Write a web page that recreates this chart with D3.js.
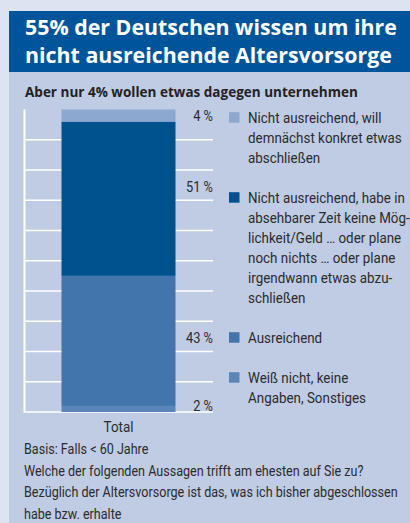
<!DOCTYPE html>
<html lang="de">
<head>
<meta charset="UTF-8">
<title>Altersvorsorge</title>
<script src="https://d3js.org/d3.v7.min.js"></script>
<style>
  body { margin: 0; background: #dde3f0; }
  svg { display: block; }
  .light { font-family: Roboto, "Liberation Sans", sans-serif; fill: #2b2b2b; }
  .bold { font-family: "Open Sans", Roboto, sans-serif; font-weight: 700; }
</style>
</head>
<body>
<script>
// chart data
const titleLines = ["55% der Deutschen wissen um ihre", "nicht ausreichende Altersvorsorge"];
const subtitle = "Aber nur 4% wollen etwas dagegen unternehmen";
const category = "Total";
// from bottom to top of the bar
const seriesKeys = ["weiss", "ausreichend", "keine", "will"];
const seriesValues = [2, 43, 51, 4];
const seriesColors = ["#5a85b9", "#4275ab", "#00528f", "#8ca7d0"];
const legendLines = [
  ["Weiß nicht, keine", "Angaben, Sonstiges"],
  ["Ausreichend"],
  ["Nicht ausreichend, habe in", "absehbarer Zeit keine Mög-", "lichkeit/Geld … oder plane", "noch nichts … oder plane", "irgendwann etwas abzu-", "schließen"],
  ["Nicht ausreichend, will", "demnächst konkret etwas", "abschließen"]
];
const gridTicks = [0, 10, 20, 30, 40, 50, 60, 70, 80, 90];
const footnote = [
  "Basis: Falls < 60 Jahre",
  "Welche der folgenden Aussagen trifft am ehesten auf Sie zu?",
  "Bezüglich der Altersvorsorge ist das, was ich bisher abgeschlossen",
  "habe bzw. erhalte"
];

const W = 410, H = 523;
const svg = d3.select("body").append("svg").attr("width", W).attr("height", H);

// background panel + title band
svg.append("rect").attr("width", W).attr("height", H).attr("fill", "#dde3f0");
svg.append("rect").attr("x", 9).attr("y", 11).attr("width", W - 9).attr("height", H - 11).attr("fill", "#c0cce4");
svg.append("rect").attr("x", 9).attr("y", 11).attr("width", W - 9).attr("height", 61).attr("fill", "#00559a");

// text helper: draws text squeezed horizontally to mimic the condensed print font
function squeezedText(parent, str, x, y, k, cls, size, anchor) {
  return parent.append("text")
    .attr("class", cls)
    .attr("transform", `translate(${x},${y}) scale(${k},1)`)
    .attr("text-anchor", anchor || "start")
    .style("font-size", size + "px")
    .text(str);
}

// measure a string so a style can be fitted to the print width
function naturalWidth(str, cls, size) {
  const t = svg.append("text").attr("class", cls).style("font-size", size + "px").text(str);
  const w = t.node().getComputedTextLength();
  t.remove();
  return w;
}

const kTitle = 372 / naturalWidth(titleLines[0], "bold", 22);
const kSub = 333 / naturalWidth(subtitle, "bold", 14.5);
const kLight = 374 / naturalWidth(footnote[2], "light", 14);
const kLegend = 157 / naturalWidth(legendLines[2][0], "light", 14.8);
const kValue = 27 / naturalWidth("51 %", "light", 14.8);

titleLines.forEach((l, i) => {
  squeezedText(svg, l, 25, 35 + i * 28, kTitle, "bold", 22).attr("fill", "#fff");
});
squeezedText(svg, subtitle, 25, 97, kSub, "bold", 14.5).attr("fill", "#222");

// scales
const y = d3.scaleLinear().domain([0, 100]).range([412, 109.5]);
const x = d3.scaleBand().domain([category]).range([24, 213]).paddingInner(0.2475).paddingOuter(0.2475);

// grid + axis line
svg.append("g")
  .selectAll("line")
  .data(gridTicks)
  .join("line")
  .attr("x1", 24).attr("x2", 213)
  .attr("y1", d => y(d)).attr("y2", d => y(d))
  .attr("stroke", "#fff").attr("stroke-width", 1.7);
svg.append("line")
  .attr("x1", 24.5).attr("x2", 24.5)
  .attr("y1", y(0) + 0.8).attr("y2", y(100))
  .attr("stroke", "#fff").attr("stroke-width", 2);

// stacked bar
const row = { cat: category };
seriesKeys.forEach((k, i) => row[k] = seriesValues[i]);
const stacked = d3.stack().keys(seriesKeys)([row]);

svg.append("g")
  .selectAll("rect")
  .data(stacked)
  .join("rect")
  .attr("x", x(category))
  .attr("width", x.bandwidth())
  .attr("y", d => y(d[0][1]))
  .attr("height", d => y(d[0][0]) - y(d[0][1]))
  .attr("fill", (d, i) => seriesColors[i]);

// value labels, placed in the grid gap of the segment middle, small ones stick to the segment edge
stacked.forEach((s, i) => {
  const lo = s[0][0], hi = s[0][1], v = seriesValues[i];
  let ly;
  if (v < 5) ly = y(lo) - 1;
  else ly = y(Math.floor((lo + hi) / 2 / 10) * 10 + 5) + 6.5;
  squeezedText(svg, v + " %", 213, ly, kValue, "light", 14.8, "end");
});

// category label
squeezedText(svg, category, x(category) + x.bandwidth() / 2, 432, kLegend, "light", 14.8, "middle");

// legend, top item first
const lineH = 20;
let ly = 122.7;
const legend = svg.append("g");
seriesKeys.map((k, i) => i).reverse().forEach(i => {
  legend.append("rect")
    .attr("x", 229).attr("y", ly - 10.5)
    .attr("width", 10.5).attr("height", 10.5)
    .attr("fill", seriesColors[i]);
  legendLines[i].forEach((l, j) => {
    squeezedText(legend, l, 248, ly + j * lineH, kLegend, "light", 14.8);
  });
  ly += (legendLines[i].length + 1) * lineH;
});

// footnote
footnote.forEach((l, i) => {
  squeezedText(svg, l, 24, 454 + i * 21.5, kLight, "light", 14);
});
</script>
</body>
</html>
